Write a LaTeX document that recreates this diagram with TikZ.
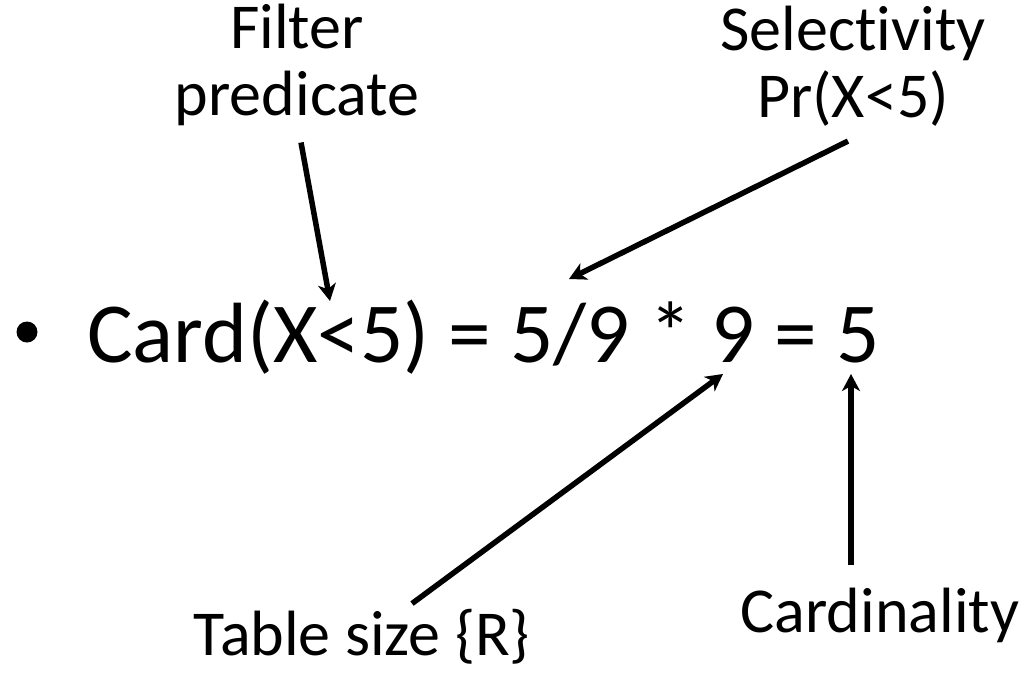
\documentclass[tikz,border=0pt]{standalone}
\usepackage{fontspec}
\setmainfont{Carlito}[Ligatures={NoCommon}]
\usetikzlibrary{arrows.meta,calc}
\tikzset{
  lbl/.style={inner sep=0pt, align=center, font=\fontsize{64}{67}\selectfont},
  big/.style={inner sep=0pt, font=\fontsize{85.5}{100}\selectfont},
  arr/.style={line width=5.5pt, -{Stealth[length=17pt,width=18pt,inset=5pt]}}
}
\begin{document}
\begin{tikzpicture}[x=1pt,y=-1pt]
\useasboundingbox (0,0) rectangle (1028,689);
\node[circle, fill=black, minimum size=21pt, inner sep=0pt] (bul) at (27,332) {};
\node[big, anchor=base west] (eq) at (87,362) {Card(X<5) = 5/9 * 9 = 5};
\node[lbl, anchor=base] (fp) at (297,115) {Filter\\predicate};
\node[lbl, anchor=base] (sel) at (853,117) {Selectivity\\Pr(X<5)};
\node[lbl, anchor=base] (ts) at (362,655) {Table size \{R\}};
\node[lbl, anchor=base] (card) at (880,632) {Cardinality};
\coordinate (tfp) at (330,301);
\coordinate (tsel) at (569,279);
\coordinate (tts) at (723,374);
\coordinate (tcard) at (851,374);
\draw[arr] ($(fp.south)+(4,17)$) -- (tfp);
\draw[arr] ($(sel.south)+(-5,15)$) -- (tsel);
\draw[arr] ($(ts.north)+(50,-5)$) -- (tts);
\draw[arr] ($(card.north)+(-29,-22)$) -- (tcard);
\end{tikzpicture}
\end{document}
